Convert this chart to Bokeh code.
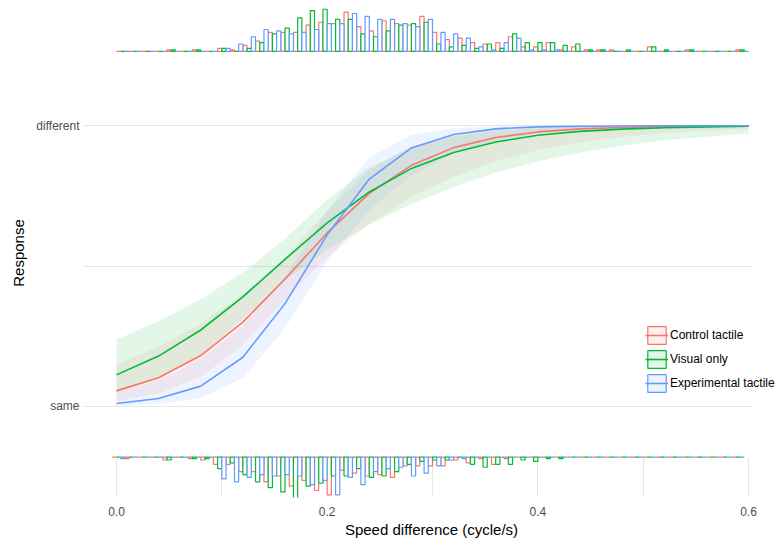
import numpy as np
from bokeh.plotting import figure
from bokeh.models import FixedTicker, Legend, LegendItem, NumeralTickFormatter, Range1d
from bokeh.embed import file_html
from bokeh.resources import INLINE

# ---------------- data ----------------
groups = ["Control tactile", "Visual only", "Experimental tactile"]
colors = ["#F8766D", "#00BA38", "#619CFF"]

speed = [0.00, 0.04, 0.08, 0.12, 0.16, 0.20, 0.24, 0.28, 0.32, 0.36, 0.40, 0.44, 0.48, 0.52, 0.56, 0.60]

fit_control = [0.055, 0.102, 0.181, 0.300, 0.454, 0.618, 0.759, 0.859, 0.922, 0.958, 0.978, 0.989, 0.994, 0.997, 0.998, 0.999]
lo_control = [0.019, 0.046, 0.104, 0.217, 0.380, 0.533, 0.651, 0.745, 0.818, 0.873, 0.913, 0.941, 0.961, 0.974, 0.983, 0.988]
hi_control = [0.149, 0.212, 0.295, 0.399, 0.531, 0.697, 0.841, 0.927, 0.969, 0.987, 0.995, 0.998, 0.999, 1.0, 1.0, 1.0]

fit_visual = [0.112, 0.179, 0.272, 0.390, 0.524, 0.654, 0.764, 0.848, 0.905, 0.942, 0.966, 0.980, 0.988, 0.993, 0.996, 0.998]
lo_visual = [0.049, 0.098, 0.184, 0.311, 0.448, 0.559, 0.647, 0.721, 0.782, 0.833, 0.873, 0.905, 0.929, 0.948, 0.961, 0.972]
hi_visual = [0.238, 0.304, 0.382, 0.477, 0.598, 0.737, 0.851, 0.923, 0.962, 0.982, 0.991, 0.996, 0.998, 0.999, 1.0, 1.0]

fit_experimental = [0.010, 0.028, 0.072, 0.175, 0.366, 0.611, 0.810, 0.921, 0.969, 0.989, 0.996, 0.998, 0.999, 1.0, 1.0, 1.0]
lo_experimental = [0.002, 0.008, 0.030, 0.101, 0.279, 0.517, 0.699, 0.823, 0.902, 0.947, 0.972, 0.985, 0.992, 0.996, 0.998, 0.999]
hi_experimental = [0.050, 0.093, 0.167, 0.287, 0.462, 0.697, 0.887, 0.967, 0.991, 0.998, 0.999, 1.0, 1.0, 1.0, 1.0, 1.0]

# histograms: 50 bins of width 0.012 (counts per bin)
bin_width = 0.012
top_bin_start = 0.0
bottom_bin_start = -0.004

top_control = [0, 0, 0, 0, 1, 0, 1, 0, 2, 1, 4, 7, 13, 13, 13, 18, 20, 19, 27, 17,
               14, 21, 19, 18, 24, 13, 8, 9, 6, 5, 6, 10, 3, 3, 6, 1, 3, 1, 1, 1,
               0, 0, 3, 0, 0, 1, 0, 0, 0, 1]
top_visual = [0, 0, 0, 0, 1, 0, 1, 0, 2, 0, 2, 6, 12, 16, 23, 28, 29, 22, 22, 12,
              10, 14, 18, 19, 20, 5, 3, 4, 2, 5, 2, 12, 6, 6, 6, 4, 5, 1, 1, 0,
              1, 0, 3, 1, 0, 1, 0, 0, 0, 1]
top_experimental = [0, 0, 0, 0, 0, 0, 0, 0, 2, 5, 10, 15, 14, 12, 13, 15, 19, 19, 26, 24,
                    22, 22, 19, 17, 22, 13, 12, 9, 3, 1, 6, 9, 1, 1, 1, 0, 0, 0, 0, 0,
                    0, 0, 0, 0, 0, 0, 0, 0, 0, 0]

bottom_control = [0, 1, 0, 0, 2, 0, 1, 2, 5, 5, 10, 10, 17, 13, 20, 16, 23, 26, 9, 11,
                  13, 12, 14, 6, 6, 6, 6, 2, 4, 1, 5, 1, 0, 0, 0, 0, 0, 0, 0, 0,
                  0, 0, 0, 0, 0, 0, 0, 0, 0, 0]
bottom_visual = [0, 0, 0, 0, 2, 0, 1, 1, 8, 4, 12, 17, 21, 24, 29, 20, 18, 13, 13, 8,
                 14, 13, 10, 5, 3, 2, 2, 0, 5, 7, 5, 5, 2, 3, 1, 1, 0, 0, 0, 0,
                 0, 0, 0, 0, 0, 0, 0, 0, 0, 0]
bottom_experimental = [1, 0, 0, 0, 0, 0, 0, 0, 15, 17, 14, 12, 13, 12, 13, 19, 16, 26, 14, 19,
                       10, 8, 7, 13, 11, 6, 2, 1, 0, 0, 0, 0, 0, 0, 0, 0, 0, 0, 0, 0,
                       0, 0, 0, 0, 0, 0, 0, 0, 0, 0]

x_ticks = [0.0, 0.2, 0.4, 0.6]
x_grid = [0.0, 0.1, 0.2, 0.3, 0.4, 0.5, 0.6]
y_ticks = {0: "same", 1: "different"}
y_grid = [0.0, 0.5, 1.0]

# ---------------- layout constants ----------------
FONT = "Liberation Sans"
X0, X1 = -0.0313, 0.6294
Y0, Y1 = -0.325, 1.4179
TOP_BASE = 1.2654
BOTTOM_BASE = -0.181
UNIT = 1.45 / 280.0

p = figure(width=779, height=540, output_backend="svg", toolbar_location=None,
           x_range=Range1d(X0, X1), y_range=Range1d(Y0, Y1),
           min_border_left=83, min_border_right=0, min_border_top=8, min_border_bottom=0)
p.outline_line_color = None
p.background_fill_color = "white"

fits = [fit_control, fit_visual, fit_experimental]
los = [lo_control, lo_visual, lo_experimental]
his = [hi_control, hi_visual, hi_experimental]
tops = [top_control, top_visual, top_experimental]
bottoms = [bottom_control, bottom_visual, bottom_experimental]

# grid
p.xgrid.ticker = FixedTicker(ticks=x_grid)
p.ygrid.ticker = FixedTicker(ticks=y_grid)
p.xgrid.grid_line_color = "#e6e6e6"
p.ygrid.grid_line_color = "#e6e6e6"
p.xgrid.cross_bounds = (Y0, BOTTOM_BASE)
p.ygrid.cross_bounds = (X0, 0.604)

# histograms
nb = len(top_control)
hist_top = []
for gi, col in enumerate(colors):
    t = np.array(tops[gi], dtype=float)
    b = np.array(bottoms[gi], dtype=float)
    k = np.arange(nb)
    lt = top_bin_start + k * bin_width + gi * bin_width / 3
    lb = bottom_bin_start + k * bin_width + gi * bin_width / 3
    r = p.quad(left=lt, right=lt + bin_width / 3, bottom=TOP_BASE, top=TOP_BASE + t * UNIT,
               fill_color="white", fill_alpha=0.9, line_color=col, line_width=1.2)
    hist_top.append(r)
    p.quad(left=lb, right=lb + bin_width / 3, top=BOTTOM_BASE, bottom=BOTTOM_BASE - b * UNIT,
           fill_color="white", fill_alpha=0.9, line_color=col, line_width=1.2)

# confidence bands
bands = []
for gi, col in enumerate(colors):
    bands.append(p.varea(x=speed, y1=los[gi], y2=his[gi], fill_color=col, fill_alpha=0.11))

items = []
for gi, col in enumerate(colors):
    lr = p.line(speed, fits[gi], line_color=col, line_width=1.6)
    items.append(LegendItem(label=groups[gi], renderers=[hist_top[gi], bands[gi], lr]))

legend = Legend(items=items, location=(562, 103), orientation="vertical",
                glyph_width=23, glyph_height=22, label_height=22, spacing=2,
                padding=0, margin=0, label_standoff=2,
                label_text_font=FONT, label_text_font_size="12px", label_text_color="black",
                border_line_alpha=0, background_fill_alpha=0)
p.add_layout(legend, "center")

# axes
p.xaxis.ticker = FixedTicker(ticks=x_ticks)
p.xaxis.formatter = NumeralTickFormatter(format="0.0")
p.xaxis.axis_label = "Speed difference (cycle/s)"
p.yaxis.ticker = FixedTicker(ticks=[0, 1])
p.yaxis.major_label_overrides = y_ticks
p.yaxis.axis_label = "Response"
for ax in (p.xaxis[0], p.yaxis[0]):
    ax.axis_line_color = None
    ax.major_tick_line_color = None
    ax.minor_tick_line_color = None
    ax.major_label_text_font = FONT
    ax.major_label_text_font_size = "12px"
    ax.major_label_text_color = "#4d4d4d"
    ax.axis_label_text_font = FONT
    ax.axis_label_text_font_size = "15px"
    ax.axis_label_text_font_style = "normal"
    ax.axis_label_text_color = "black"
    ax.major_label_standoff = 3
    ax.axis_label_standoff = 2
p.yaxis.major_label_standoff = -2
p.yaxis.axis_label_standoff = 6

open("out.html", "w").write(file_html(p, INLINE))
